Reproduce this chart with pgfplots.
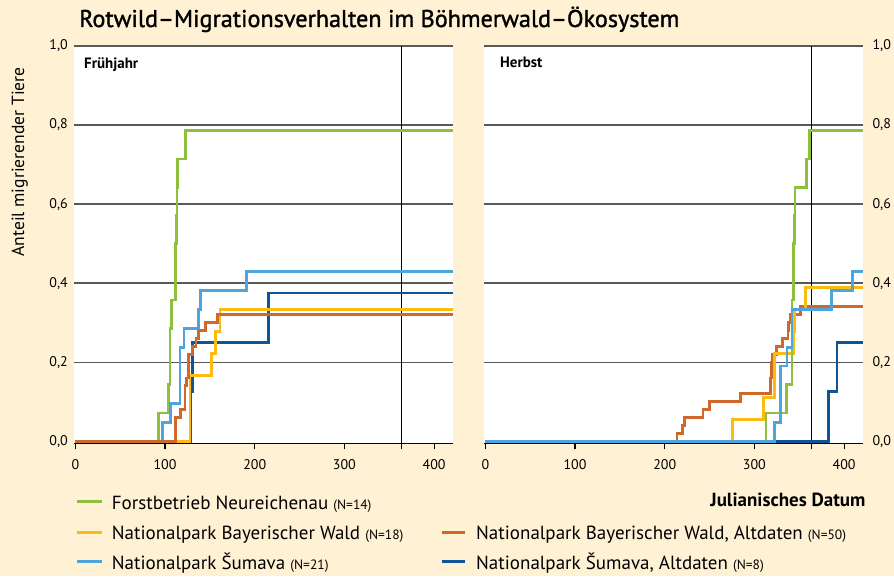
\documentclass[border=0pt]{standalone}
\usepackage{fontspec}
\setmainfont{PT Sans}
\newfontfamily\titlefont{PT Sans}[FakeBold=1.3]
\usepackage{pgfplots}
\pgfplotsset{compat=1.18}
\definecolor{cream}{RGB}{255,241,212}
\definecolor{cgreen}{RGB}{141,192,62}
\definecolor{cyellow}{RGB}{252,187,18}
\definecolor{cblue}{RGB}{76,166,221}
\definecolor{corange}{RGB}{207,105,43}
\definecolor{cdark}{RGB}{14,84,150}
\pgfplotsset{
  panel/.style={
    scale only axis, width=379.3pt, height=397.3pt,
    xmin=-1.5, xmax=421.4, ymin=-0.0053, ymax=1,
    axis background/.style={fill=white},
    axis x line*=bottom,
    x axis line style={-, line width=1.4pt, black},
    y axis line style={draw=none},
    xtick={0,100,200,300,400}, xticklabels={0,100,200,300,400},
    xtick align=outside, major tick length=6pt,
    x tick style={black, line width=1.2pt},
    xticklabel style={inner sep=0pt, yshift=-10pt, font=\fontsize{14}{14}\selectfont},
    extra x ticks={364}, extra x tick labels={},
    extra x tick style={grid=major, major grid style={black, line width=1.1pt}},
    ytick={0.2,0.4,0.6,0.8,1}, yticklabels={0{,}2,0{,}4,0{,}6,0{,}8,1{,}0},
    extra y ticks={0}, extra y tick labels={0{,}0},
    extra y tick style={grid=none},
    ytick style={draw=none},
    ymajorgrids, major grid style={black!65, line width=1.3pt},
    yticklabel style={inner sep=0pt, font=\fontsize{14}{14}\selectfont},
    every axis plot/.append style={const plot, no marks, line width=2.8pt, line cap=butt},
  }
}
\begin{document}
\begin{tikzpicture}
\path[use as bounding box] (0pt,0pt) rectangle (894pt,576pt);
\fill[cream] (0pt,0pt) rectangle (894pt,576pt);

% Spring
\begin{axis}[panel, at={(74pt,132.7pt)}, anchor=south west,
  axis y line*=left, yticklabel style={xshift=-6pt}]
\addplot[cgreen] coordinates {(0,0)(92.5,0.0714)(104,0.1429)(105.5,0.2857)(107.5,0.3571)(112,0.5)(112.7,0.5714)(113.3,0.6429)(114,0.7143)(123,0.7857)(421.4,0.7857)};
\addplot[cblue] coordinates {(0,0)(97,0.0476)(106.4,0.0952)(116.7,0.2381)(121.2,0.2857)(137,0.3333)(139.8,0.381)(191,0.4286)(421.4,0.4286)};
\addplot[cdark] coordinates {(0,0)(128.5,0.125)(130.4,0.25)(215.2,0.375)(421.4,0.375)};
\addplot[cyellow] coordinates {(0,0)(127.9,0.1667)(152.1,0.2222)(156.5,0.2778)(161.3,0.3333)(421.4,0.3333)};
\addplot[corange] coordinates {(0,0)(111.5,0.06)(117.5,0.08)(122.3,0.14)(124.2,0.16)(126,0.22)(131,0.24)(134.5,0.26)(137,0.28)(145.5,0.30)(158.7,0.32)(421.4,0.32)};
\end{axis}

% Autumn
\begin{axis}[panel, at={(484pt,132.7pt)}, anchor=south west,
  axis y line*=right, yticklabel style={xshift=9pt}]
\addplot[corange] coordinates {(0,0)(213.7,0.02)(220,0.04)(222.2,0.06)(242.7,0.08)(249.7,0.10)(284.3,0.12)(317.5,0.16)(319,0.20)(320,0.22)(325,0.24)(331.4,0.26)(337.5,0.28)(338.1,0.30)(339.6,0.32)(351.2,0.34)(421.4,0.34)};
\addplot[cyellow] coordinates {(0,0)(275.7,0.0556)(310.3,0.1111)(322.2,0.2222)(343.5,0.2778)(345,0.3333)(356.7,0.3889)(421.4,0.3889)};
\addplot[cgreen] coordinates {(0,0)(312.9,0.0714)(336,0.1429)(341.9,0.3571)(343.5,0.5)(344.5,0.5714)(345.3,0.6429)(357.7,0.7143)(361.8,0.7857)(421.4,0.7857)};
\addplot[cdark] coordinates {(0,0)(382.9,0.125)(392.1,0.25)(421.4,0.25)};
\addplot[cblue] coordinates {(0,0)(322.2,0.0476)(328.9,0.1905)(336.3,0.2381)(341.9,0.3333)(385.5,0.381)(409.3,0.4286)(421.4,0.4286)};
\end{axis}

% Texts
\node[anchor=base west, inner sep=0pt, font=\titlefont\fontsize{24.2}{26}\selectfont] at (79pt,549pt) {Rotwild–Migrationsverhalten im Böhmerwald–Ökosystem};
\node[anchor=base west, inner sep=0pt, rotate=90, font=\fontsize{17.6}{20}\selectfont] at (24pt,319.3pt) {Anteil migrierender Tiere};
\node[anchor=base west, inner sep=0pt, font=\bfseries\fontsize{15}{16}\selectfont] at (84pt,507.7pt) {Frühjahr};
\node[anchor=base west, inner sep=0pt, font=\bfseries\fontsize{15}{16}\selectfont] at (500pt,508pt) {Herbst};
\node[anchor=base east, inner sep=0pt, font=\bfseries\fontsize{19}{20}\selectfont] at (865.7pt,69.3pt) {Julianisches Datum};

% Legend
\draw[cgreen, line width=3pt] (77pt,74.3pt) -- (102pt,74.3pt);
\node[anchor=base west, inner sep=0pt, font=\fontsize{19}{20}\selectfont] at (111.7pt,67pt) {Forstbetrieb Neureichenau {\fontsize{13.5}{14}\selectfont (N=14)}};
\draw[cyellow, line width=3pt] (77pt,44pt) -- (102pt,44pt);
\node[anchor=base west, inner sep=0pt, font=\fontsize{19}{20}\selectfont] at (111.7pt,36.7pt) {Nationalpark Bayerischer Wald {\fontsize{13.5}{14}\selectfont (N=18)}};
\draw[cblue, line width=3pt] (77pt,14.3pt) -- (102pt,14.3pt);
\node[anchor=base west, inner sep=0pt, font=\fontsize{19}{20}\selectfont] at (111.7pt,7pt) {Nationalpark Šumava {\fontsize{13.5}{14}\selectfont (N=21)}};
\draw[corange, line width=3pt] (441.7pt,44pt) -- (465pt,44pt);
\node[anchor=base west, inner sep=0pt, font=\fontsize{19}{20}\selectfont] at (476pt,36.7pt) {Nationalpark Bayerischer Wald, Altdaten {\fontsize{13.5}{14}\selectfont (N=50)}};
\draw[cdark, line width=3pt] (441.7pt,14.3pt) -- (465pt,14.3pt);
\node[anchor=base west, inner sep=0pt, font=\fontsize{19}{20}\selectfont] at (476pt,7pt) {Nationalpark Šumava, Altdaten {\fontsize{13.5}{14}\selectfont (N=8)}};
\end{tikzpicture}
\end{document}
